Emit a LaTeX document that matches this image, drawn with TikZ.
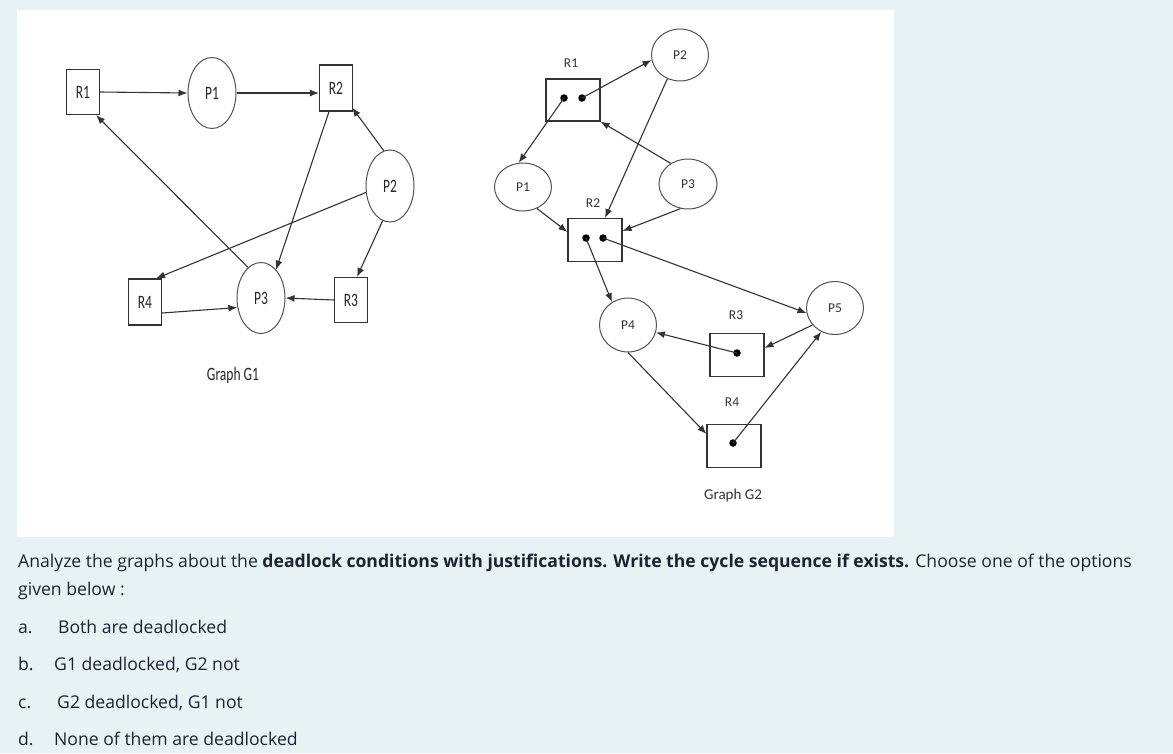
\documentclass[tikz,border=0pt]{standalone}
\usepackage{fontspec}
\setmainfont{Open Sans}
\newfontfamily\carl{Carlito}
\usetikzlibrary{shapes.geometric,arrows.meta}
\definecolor{pagebg}{HTML}{E7F2F5}
\definecolor{txt}{HTML}{1E2230}
\definecolor{ln}{HTML}{333333}
\newcommand{\glab}[1]{\scalebox{1}[1.4]{#1}}
\tikzset{
  box/.style={draw=ln, line width=1.1pt, rectangle, inner sep=0pt},
  proc/.style={draw=ln!85, line width=1pt, ellipse, inner sep=0pt},
  arr/.style={draw=ln, line width=1.1pt, -{Latex[length=9pt,width=7pt]}},
  gonelab/.style={font=\carl\fontsize{13.5}{14}\selectfont, text=black!85},
  gtwolab/.style={font=\carl\fontsize{13.5}{14}\selectfont, text=black!80},
  dot/.style={circle, fill=black, inner sep=0pt, minimum size=7.5pt},
  para/.style={font=\fontsize{17.6}{21}\selectfont, text=txt, anchor=base west, inner sep=0pt},
}
\begin{document}
\begin{tikzpicture}[x=1pt,y=-1pt]
\useasboundingbox (0,0) rectangle (1173,753);
\fill[pagebg] (0,0) rectangle (1173,753);
\fill[white] (17,10) rectangle (894,537);

% ---------- Graph G1 ----------
\node[box, minimum width=33pt, minimum height=45pt, gonelab] (aR1) at (83,92) {\glab{R1}};
\node[proc, minimum width=48pt, minimum height=71pt, gonelab] (aP1) at (212,93) {\glab{P1}};
\node[box, minimum width=33pt, minimum height=46pt, gonelab] (aR2) at (336,88) {\glab{R2}};
\node[proc, minimum width=48pt, minimum height=72pt, gonelab] (aP2) at (390,186) {\glab{P2}};
\node[proc, minimum width=48pt, minimum height=71pt, gonelab] (aP3) at (261,298) {\glab{P3}};
\node[box, minimum width=33pt, minimum height=46pt, gonelab] (aR4) at (145,302) {\glab{R4}};
\node[box, minimum width=33pt, minimum height=45pt, gonelab] (aR3) at (351,300) {\glab{R3}};
\node[gonelab] (gone) at (233,375) {\glab{Graph G1}};

\draw[arr] (aR1.east) -- (aP1.west);
\draw[arr] (aP1.east) -- ([yshift=-5pt]aR2.west);
\draw[arr] (aP2.100) -- ([yshift=4pt,xshift=-1pt]aR2.south east);
\draw[arr] ([xshift=-7pt]aR2.south) -- (aP3.62);
\draw[arr] (aP3.113) -- ([xshift=-4pt]aR1.south east);
\draw[arr] (aP2.195) -- ([xshift=-6pt]aR4.north east);
\draw[arr] (aP2.258) -- ([xshift=6pt]aR3.north);
\draw[arr] (aR3.west) -- (aP3.east);
\draw[arr] ([yshift=-11pt]aR4.east) -- (aP3.202);

% ---------- Graph G2 ----------
\node[box, minimum width=54pt, minimum height=42pt] (bR1) at (573,100) {};
\node[box, minimum width=54pt, minimum height=43pt] (bR2) at (595,240) {};
\node[box, minimum width=54pt, minimum height=43pt] (bR3) at (737,355) {};
\node[box, minimum width=54pt, minimum height=43pt] (bR4) at (734,446) {};
\node[dot] (bR1a) at (564,98) {};
\node[dot] (bR1b) at (582,98) {};
\node[dot] (bR2a) at (586,238) {};
\node[dot] (bR2b) at (603,238) {};
\node[dot] (bR3a) at (737,353) {};
\node[dot] (bR4a) at (733,443) {};
\node[proc, minimum width=57pt, minimum height=52pt, gtwolab] (bP2) at (680,55) {P2};
\node[proc, minimum width=57pt, minimum height=48pt, gtwolab] (bP1) at (523,187) {P1};
\node[proc, minimum width=58pt, minimum height=50pt, gtwolab] (bP3) at (688,184) {P3};
\node[proc, minimum width=57pt, minimum height=54pt, gtwolab] (bP4) at (628,325) {P4};
\node[proc, minimum width=57pt, minimum height=53pt, gtwolab] (bP5) at (835,308) {P5};
\node[gtwolab] (lR1) at (571,63) {R1};
\node[gtwolab] (lR2) at (593,203) {R2};
\node[gtwolab] (lR3) at (736,315) {R3};
\node[gtwolab] (lR4) at (732,402) {R4};
\node[gtwolab, font=\carl\fontsize{15}{15}\selectfont] (gtwo) at (733,495) {Graph G2};

\draw[arr] (bR1b.center) -- (bP2.190);
\draw[arr] (bR1a.center) -- (bP1.100);
\draw[arr] (bP3.130) -- (bR1.south east);
\draw[arr] (bP2.242) -- ([xshift=10pt]bR2.north);
\draw[arr] (bP1.303) -- ([yshift=8pt]bR2.west);
\draw[arr] (bP3.253) -- ([yshift=9pt]bR2.east);
\draw[arr] (bR2a.center) -- (bP4.125);
\draw[arr] (bR2b.center) -- (bP5.190);
\draw[arr] (bR3a.center) -- (bP4.345);
\draw[arr] (bP5.217) -- ([yshift=7pt]bR3.east);
\draw[arr] (bP4.south) -- ([yshift=12pt]bR4.west);
\draw[arr] (bR4a.center) -- (bP5.240);

% ---------- Question text ----------
\node[para] (q1) at (18,567) {Analyze the graphs about the \textbf{deadlock conditions with justifications. Write the cycle sequence if exists.} Choose one of the options};
\node[para] (q2) at (18,595) {given below :};
\node[para] (oa) at (18,633) {a.};
\node[para] (ta) at (58,633) {Both are deadlocked};
\node[para] (ob) at (18,670) {b.};
\node[para] (tb) at (54,670) {G1 deadlocked, G2 not};
\node[para] (oc) at (18,708) {c.};
\node[para] (tc) at (57,708) {G2 deadlocked, G1 not};
\node[para] (od) at (18,745) {d.};
\node[para] (td) at (54,745) {None of them are deadlocked};
\end{tikzpicture}
\end{document}
